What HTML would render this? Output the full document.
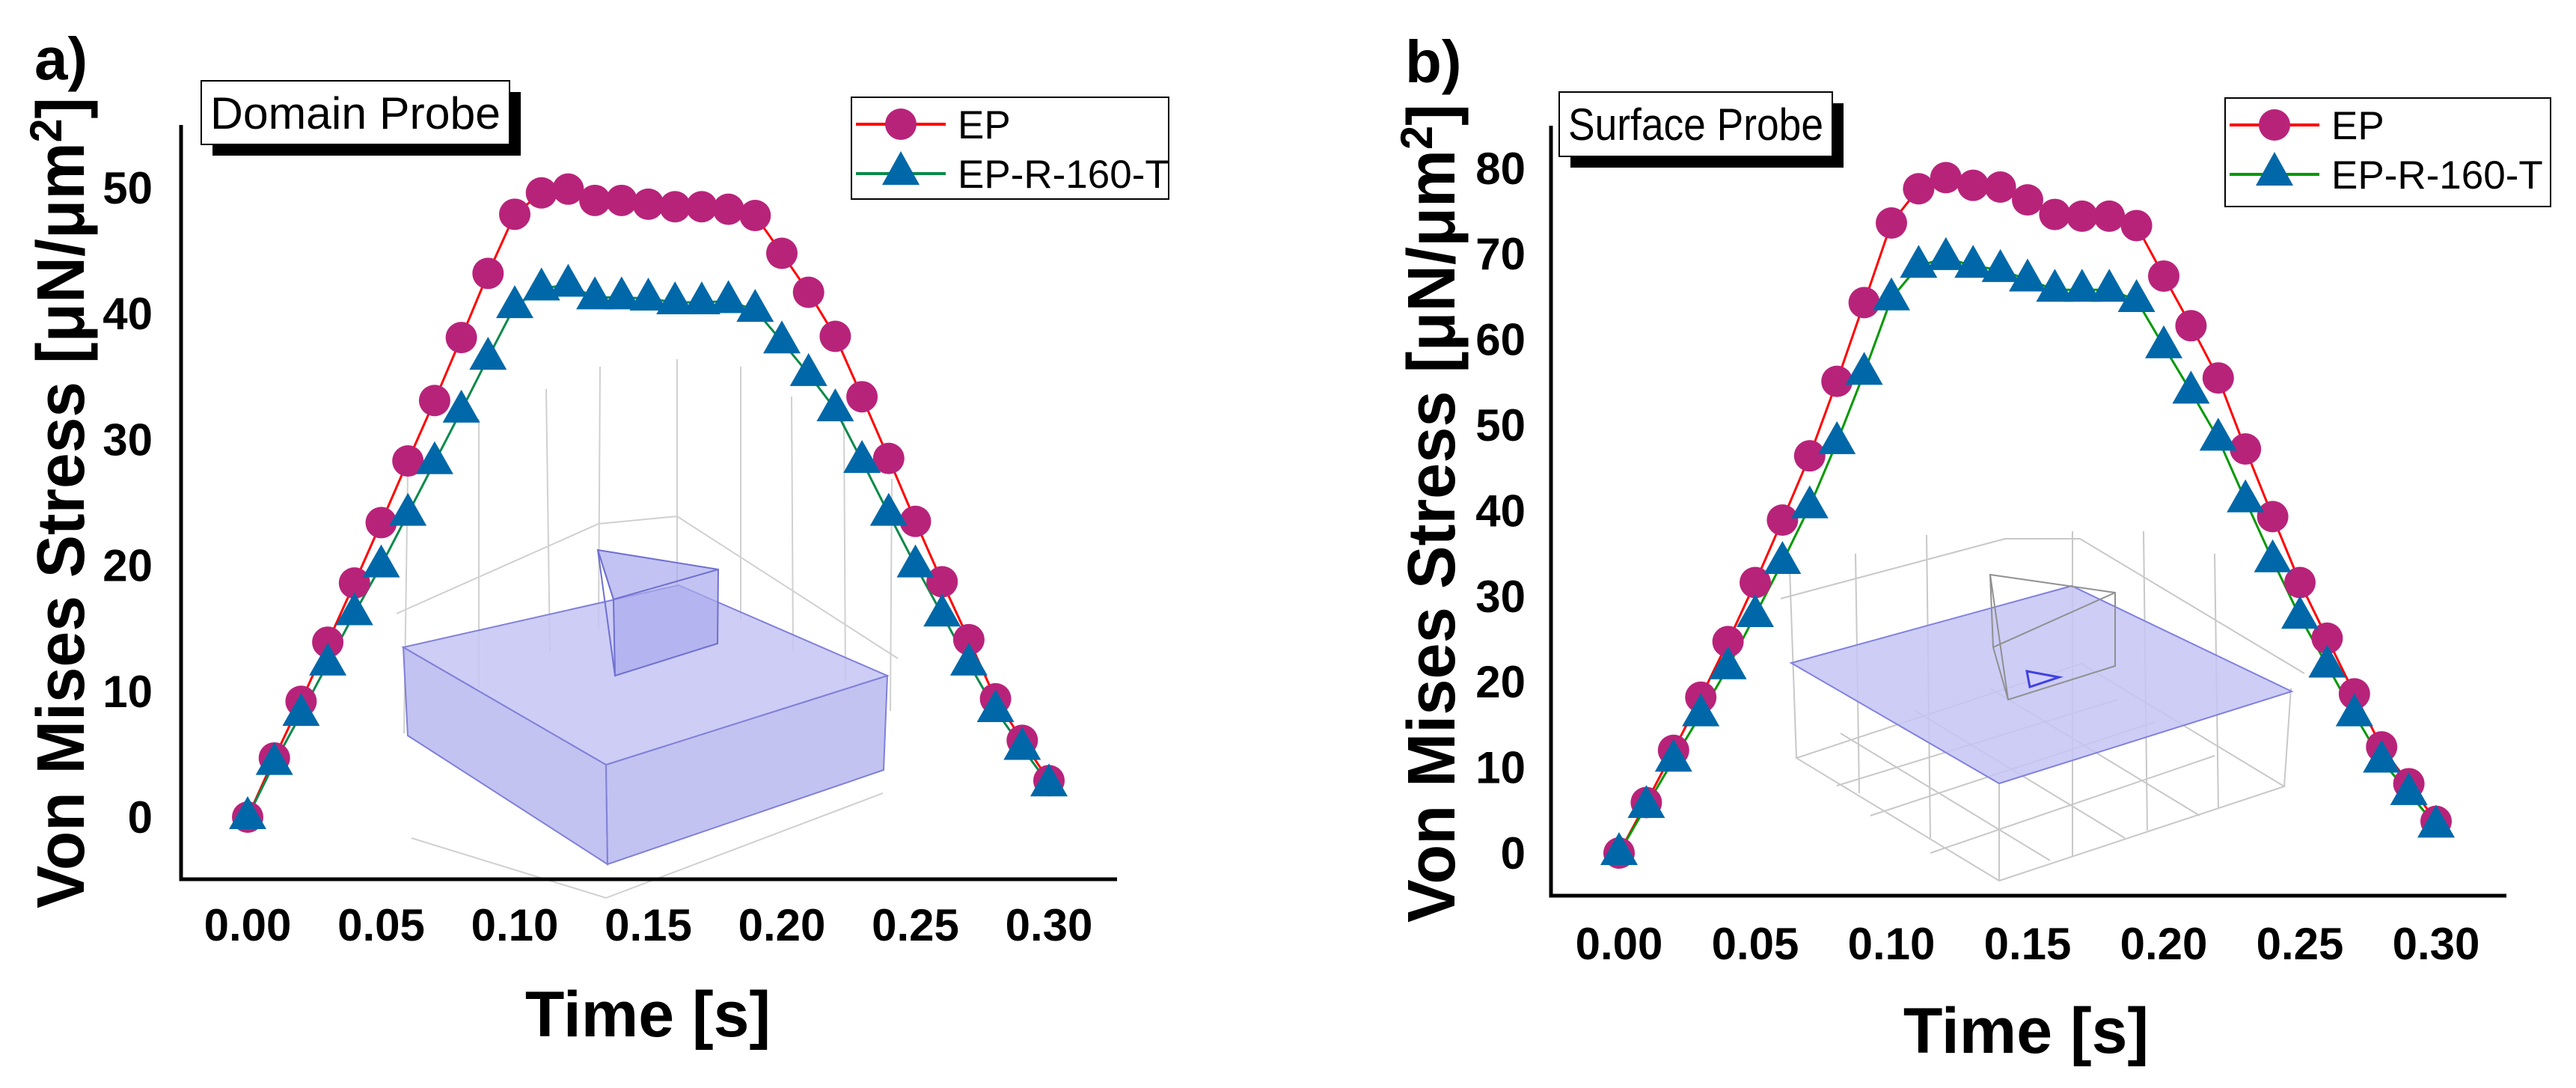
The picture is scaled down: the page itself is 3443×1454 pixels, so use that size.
<!DOCTYPE html>
<html><head><meta charset="utf-8"><style>
html,body{margin:0;padding:0;background:#fff;}
svg{display:block;}
text{font-family:"Liberation Sans",sans-serif;}
</style></head><body>
<svg id="fig" width="3443" height="1454" viewBox="0 0 3443 1454" xmlns="http://www.w3.org/2000/svg">
<rect width="3443" height="1454" fill="#fff"/>
<g id="insets">
 <g stroke="#d0d0d0" stroke-width="2" fill="none">
  <path d="M540,980 L545,630 M640,920 L640,560 M735,870 L730,520 M800,840 L802,490 M905,800 L905,480 M990,830 L990,490 M1060,870 L1058,530 M1130,910 L1128,560 M1190,950 L1192,640"/>
  <path d="M530,820 L800,700 L905,690 L1200,880 M550,1120 L810,1200 L1180,1060"/>
 </g>
 <polygon points="539,865 810,1022 812,1155 545,983" fill="#b8b8f0" fill-opacity="0.85" stroke="#8080d8" stroke-width="2"/>
 <polygon points="810,1022 1186,903 1181,1029 812,1155" fill="#b8b8f0" fill-opacity="0.85" stroke="#8080d8" stroke-width="2"/>
 <polygon points="539,865 810,1022 1186,903 907,782" fill="#c4c4f4" fill-opacity="0.85" stroke="#8080d8" stroke-width="2"/>
 <polygon points="799,735 960,761 959,860 822,903 820,801" fill="#aaaaee" fill-opacity="0.7" stroke="#7070d0" stroke-width="2"/>
 <path d="M820,801 L960,761 M799,735 L820,801 M799,735 L822,903" stroke="#7070d0" stroke-width="2" fill="none"/>

 <g stroke="#c8c8c8" stroke-width="2" fill="none">
  <polygon points="2401,1013 2672,1177 3053,1051 2782,887"/>
  <path d="M2401,1013 L2392,760 M2672,1177 L2672,1047 M3053,1051 L3062,920 M2485,1060 L2480,740 M2580,1120 L2575,715 M2770,1145 L2770,710 M2870,1110 L2865,710 M2965,1080 L2960,740 M2455,1050 L2830,935 M2500,1090 L2880,965 M2580,1140 L2960,1010 M2460,980 L2740,1150 M2560,950 L2840,1120 M2660,920 L2940,1090 M2380,800 L2680,720 L2780,720 L3080,900"/>
 </g>
 <polygon points="2394,886 2672,1047 3063,924 2769,783" fill="#c4c4f4" fill-opacity="0.85" stroke="#8080e0" stroke-width="2"/>
 <g stroke="#909090" stroke-width="2" fill="none">
  <polygon points="2660,768 2827,792 2827,890 2684,935 2664,865"/>
  <path d="M2664,865 L2827,792 M2660,768 L2684,935"/>
 </g>
 <polygon points="2709,897 2752,905 2713,918" fill="#d0d0ff" stroke="#4040e0" stroke-width="3"/>
</g>
<g id="charts"></g>
</svg>
<script>
const ticksX = [0, 0.05, 0.10, 0.15, 0.20, 0.25, 0.30];
const tickLabelsX = ["0.00","0.05","0.10","0.15","0.20","0.25","0.30"];
const time = [0,0.01,0.02,0.03,0.04,0.05,0.06,0.07,0.08,0.09,0.10,0.11,0.12,0.13,0.14,0.15,0.16,0.17,0.18,0.19,0.20,0.21,0.22,0.23,0.24,0.25,0.26,0.27,0.28,0.29,0.30];
const ticksYA = [0,10,20,30,40,50];
const ticksYB = [0,10,20,30,40,50,60,70,80];
const epA = [0,4.7,9.2,13.9,18.6,23.4,28.3,33.1,38.1,43.2,47.9,49.6,49.9,49.0,49.0,48.7,48.5,48.5,48.3,47.8,44.8,41.7,38.2,33.4,28.5,23.5,18.7,14.1,9.4,6.1,2.9];
const eprA = [0,4.3,8.2,12.2,16.2,20.0,24.1,28.2,32.3,36.5,40.6,42.0,42.3,41.3,41.3,41.2,40.9,40.9,41.0,40.3,37.8,35.2,32.4,28.3,24.1,20.0,16.1,12.2,8.5,5.5,2.6];
const epB = [0,5.9,12.0,18.2,24.7,31.6,38.9,46.4,55.1,64.3,73.6,77.6,78.9,78.0,77.8,76.3,74.6,74.4,74.4,73.3,67.4,61.6,55.5,47.2,39.3,31.6,25.1,18.6,12.4,8.1,3.7];
const eprB = [0,5.5,10.9,16.2,21.7,27.8,34.0,40.5,48.0,56.1,64.8,68.6,69.5,68.6,68.1,67.0,65.8,65.8,65.8,64.6,59.2,53.9,48.4,41.2,34.2,27.6,21.9,16.2,10.8,7.0,3.2];

const NS = "http://www.w3.org/2000/svg";
const root = document.getElementById('charts');
function mk(tag, attrs, parent){
  const e = document.createElementNS(NS, tag);
  for (const k in attrs) e.setAttribute(k, attrs[k]);
  (parent||root).appendChild(e);
  return e;
}
function panel(cfg){
  const g = mk('g', {});
  
  
  const sx = v => cfg.x0 + v * cfg.kx;
  const sy = v => cfg.y0 - v * cfg.ky;
  const ax = mk('path', {d:`M${cfg.axX},${cfg.axTop} L${cfg.axX},${cfg.axY} L${cfg.axRight},${cfg.axY}`, stroke:'#000','stroke-width':5, fill:'none'}, g);
  
  
  ticksX.forEach((t,i)=>{
    const tl = mk('text', {x:sx(t), y:cfg.xLabY, 'text-anchor':'middle','font-size':60,'font-weight':'bold'}, g);
    tl.textContent = tickLabelsX[i];
    
    
  });
  cfg.ticksY.forEach(v=>{
    const tl = mk('text', {x:cfg.yLabX, y:sy(v)+21, 'text-anchor':'end','font-size':60,'font-weight':'bold'}, g);
    tl.textContent = String(v);
    
    
  });
  const xt = mk('text', {x:cfg.xtX, y:cfg.xtY, 'text-anchor':'middle','font-size':86,'font-weight':'bold'}, g);
  xt.textContent = 'Time [s]';
  
  
  const yt = mk('text', {x:0, y:0, 'text-anchor':'middle','font-size':90,'font-weight':'bold', transform:`translate(${cfg.ytX},${cfg.ytY}) rotate(-90)`, textLength:cfg.ytLen, lengthAdjust:'spacingAndGlyphs'}, g);
  yt.innerHTML = 'Von Mises Stress [μN/μm<tspan dy="-30" font-size="60">2</tspan><tspan dy="30">]</tspan>';
  
  
  const pl = mk('text', {x:cfg.plX, y:cfg.plY, 'font-size':80,'font-weight':'bold'}, g);
  pl.textContent = cfg.panelLabel;
  
  
  const pb = cfg.pbox;
  const sh = mk('rect', {x:pb[0]+15, y:pb[1]+15, width:pb[2], height:pb[3], fill:'#000'}, g);
  
  
  const bx = mk('rect', {x:pb[0], y:pb[1], width:pb[2], height:pb[3], fill:'#fff', stroke:'#000','stroke-width':2}, g);
  
  
  const bt = mk('text', {x:pb[0]+12, y:pb[1]+64, 'font-size':60, textLength:pb[2]-24, lengthAdjust:'spacingAndGlyphs'}, g);
  bt.textContent = cfg.probe;
  
  
  const lineEP = mk('polyline', {points: time.map((t,i)=>`${sx(t)},${sy(cfg.ep[i])}`).join(' '), fill:'none', stroke:'#ff0000','stroke-width':3}, g);
  
  
  const lineR = mk('polyline', {points: time.map((t,i)=>`${sx(t)},${sy(cfg.epr[i])}`).join(' '), fill:'none', stroke:cfg.green,'stroke-width':3}, g);
  
  
  time.forEach((t,i)=>{
    const c = mk('circle', {cx:sx(t), cy:sy(cfg.ep[i]), r:21, fill:'#b8237a'}, g);
    
    
  });
  time.forEach((t,i)=>{
    const x = sx(t), y = sy(cfg.epr[i]);
    const p = mk('polygon', {points:`${x},${y-28} ${x+25},${y+16} ${x-25},${y+16}`, fill:'#0068a8'}, g);
    
    
  });
  const L = cfg.leg;
  const lg = mk('g', {}, g);
  
  
  mk('rect', {x:L[0], y:L[1], width:L[2], height:L[3], fill:'#fff', stroke:'#000','stroke-width':2}, lg);
  const r1 = L[1]+36, r2 = L[1]+102, lx1 = L[0]+6, lx2 = L[0]+126, mx = (lx1+lx2)/2;
  mk('line', {x1:lx1,y1:r1,x2:lx2,y2:r1,stroke:'#ff0000','stroke-width':4}, lg);
  mk('circle', {cx:mx, cy:r1, r:21, fill:'#b8237a'}, lg);
  mk('line', {x1:lx1,y1:r2,x2:lx2,y2:r2,stroke:cfg.green,'stroke-width':4}, lg);
  mk('polygon', {points:`${mx},${r2-30} ${mx+25},${r2+15} ${mx-25},${r2+15}`, fill:'#0068a8'}, lg);
  const e1 = mk('text', {x:L[0]+142, y:r1+19, 'font-size':53}, lg);
  e1.textContent = 'EP';
  
  
  const e2 = mk('text', {x:L[0]+142, y:r2+19, 'font-size':53}, lg);
  e2.textContent = 'EP-R-160-T';
  
  
}
panel({id:'panel-a', x0:331, kx:3570, y0:1092, ky:16.82, ep:epA, epr:eprA, ticksY:ticksYA, green:'#0a8a4a',
  axX:242, axTop:167, axY:1175, axRight:1493, xLabY:1257, yLabX:204,
  xtX:866, xtY:1385, ytX:112, ytY:672, ytLen:1084, plX:46, plY:106, panelLabel:'a)',
  pbox:[269,108,412,85], probe:'Domain Probe', leg:[1138,130,424,136]});
panel({id:'panel-b', x0:2164, kx:3640, y0:1140, ky:11.44, ep:epB, epr:eprB, ticksY:ticksYB, green:'#009900',
  axX:2073, axTop:168, axY:1197, axRight:3350, xLabY:1282, yLabX:2039,
  xtX:2708, xtY:1407, ytX:1944, ytY:686, ytLen:1094, plX:1878, plY:110, panelLabel:'b)',
  pbox:[2084,123,365,86], probe:'Surface Probe', leg:[2974,131,435,145]});
</script>
</body></html>
